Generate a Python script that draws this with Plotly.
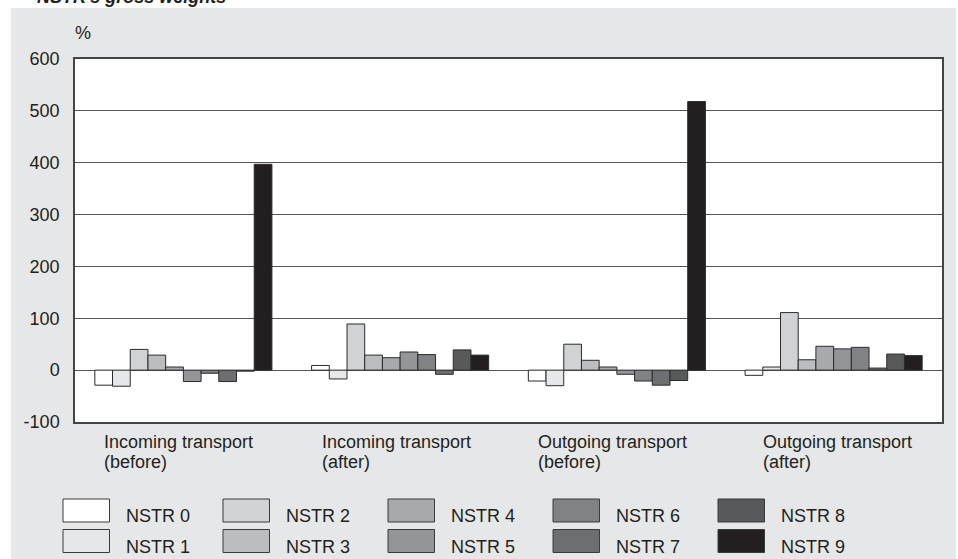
import plotly.graph_objects as go

# ---------------- data ----------------
categories = ["Incoming transport (before)", "Incoming transport (after)",
              "Outgoing transport (before)", "Outgoing transport (after)"]
label_line1 = ["Incoming transport", "Incoming transport", "Outgoing transport", "Outgoing transport"]
label_line2 = ["(before)", "(after)", "(before)", "(after)"]

series_names = ["NSTR 0", "NSTR 1", "NSTR 2", "NSTR 3", "NSTR 4",
                "NSTR 5", "NSTR 6", "NSTR 7", "NSTR 8", "NSTR 9"]
nstr0 = [-29, 9, -21, -10]
nstr1 = [-31, -17, -30, 6]
nstr2 = [40, 89, 50, 111]
nstr3 = [29, 29, 19, 20]
nstr4 = [6, 24, 6, 46]
nstr5 = [-22, 35, -8, 41]
nstr6 = [-6, 30, -21, 44]
nstr7 = [-22, -8, -29, 4]
nstr8 = [-2, 39, -20, 31]
nstr9 = [397, 29, 518, 28]
series_values = [nstr0, nstr1, nstr2, nstr3, nstr4, nstr5, nstr6, nstr7, nstr8, nstr9]

y_ticks = [-100, 0, 100, 200, 300, 400, 500, 600]
y_ticklabels = ["-100", "0", "100", "200", "300", "400", "500", "600"]
y_unit = "%"
title_text = "NSTR's gross weights"

# ---------------- style ----------------
colors = ["#ffffff", "#e6e7e8", "#d1d2d4", "#bbbdbf", "#a7a9ac",
          "#939598", "#808285", "#6d6e71", "#58595b", "#231f20"]
W, H = 958, 559
L, R, T, B = 75, 16, 59, 137
PW, PH = W - L - R, H - T - B
FONT = "Liberation Sans, Arial, sans-serif"
TXT = "#231f20"


def px(x):
    return (x - L) / PW


def py(y):
    return (H - B - y) / PH


fig = go.Figure()
for name, vals, col in zip(series_names, series_values, colors):
    fig.add_trace(go.Bar(
        x=categories, y=vals, name=name, showlegend=False,
        marker=dict(color=col, line=dict(color="#2b2b2b", width=1)),
    ))

shapes = []
# white strips around the grey panel
shapes.append(dict(type="rect", xref="paper", yref="paper", x0=px(-5), x1=px(W + 5),
                   y0=py(8), y1=py(-5), fillcolor="white", line=dict(width=0), layer="above"))
shapes.append(dict(type="rect", xref="paper", yref="paper", x0=px(-5), x1=px(11),
                   y0=py(H + 5), y1=py(-5), fillcolor="white", line=dict(width=0), layer="above"))
shapes.append(dict(type="rect", xref="paper", yref="paper", x0=px(956), x1=px(W + 5),
                   y0=py(H + 5), y1=py(-5), fillcolor="white", line=dict(width=0), layer="above"))

annotations = []
# title (cut off at top)
annotations.append(dict(text="<b><i>" + title_text + "</i></b>", xref="paper", yref="paper",
                        x=px(35), y=py(9), xanchor="left", yanchor="bottom", showarrow=False,
                        font=dict(family=FONT, size=18, color=TXT)))
# unit label
annotations.append(dict(text=y_unit, xref="paper", yref="paper", x=px(73), y=py(33),
                        xanchor="left", yanchor="middle", showarrow=False,
                        font=dict(family=FONT, size=18, color=TXT)))
# category labels
label_dx = [-81, -80, -81, -73]
for cat, l1, l2, dx in zip(categories, label_line1, label_line2, label_dx):
    annotations.append(dict(text=l1, xref="x", yref="paper", x=cat, xshift=dx, y=py(442),
                            xanchor="left", yanchor="middle", showarrow=False,
                            font=dict(family=FONT, size=18, color=TXT)))
    annotations.append(dict(text=l2, xref="x", yref="paper", x=cat, xshift=dx, y=py(461.5),
                            xanchor="left", yanchor="middle", showarrow=False,
                            font=dict(family=FONT, size=18, color=TXT)))

# legend built from series names / colours (2 rows x 5 columns)
swatch_x = [63, 223, 388, 553, 718]
row_sw = [(499, 522), (529.5, 552.5)]
row_txt = [516, 547]
for i, (name, col) in enumerate(zip(series_names, colors)):
    c, r = i // 2, i % 2
    x0 = swatch_x[c]
    shapes.append(dict(type="rect", xref="paper", yref="paper", x0=px(x0), x1=px(x0 + 46.5),
                       y0=py(row_sw[r][1]), y1=py(row_sw[r][0]), fillcolor=col,
                       line=dict(color="#3a3a3a", width=1), layer="above"))
    annotations.append(dict(text=name, xref="paper", yref="paper", x=px(x0 + 61.3), y=py(row_txt[r]),
                            xanchor="left", yanchor="middle", showarrow=False,
                            font=dict(family=FONT, size=18, color=TXT)))

fig.update_layout(
    width=W, height=H,
    margin=dict(l=L, r=R, t=T, b=B, pad=0),
    paper_bgcolor="#e6e7e8", plot_bgcolor="white",
    barmode="group", bargap=0.183, bargroupgap=0,
    font=dict(family=FONT, size=18, color=TXT),
    shapes=shapes, annotations=annotations,
    showlegend=False,
)
fig.update_xaxes(showticklabels=False, showgrid=False, showline=True, mirror=True,
                 linecolor="#444444", linewidth=1.5, ticks="", zeroline=False)
fig.update_yaxes(range=[-100, 600], tickvals=y_ticks, ticktext=y_ticklabels,
                 showgrid=True, gridcolor="#555555",
                 gridwidth=1, zeroline=True, zerolinecolor="#555555", zerolinewidth=1,
                 showline=True, mirror=True, linecolor="#444444", linewidth=1.5,
                 ticks="", ticklabelstandoff=10,
                 tickfont=dict(family=FONT, size=18, color=TXT))

fig.write_html("out.html", config={"displayModeBar": False},
               post_script="document.body.style.margin='0';document.body.style.overflow='hidden';")
